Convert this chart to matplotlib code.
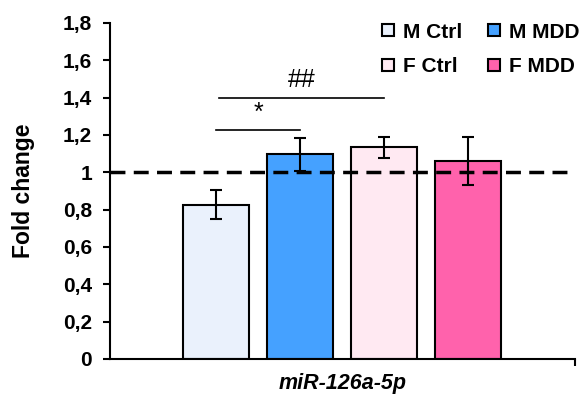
import matplotlib.pyplot as plt
from matplotlib.lines import Line2D

plt.rcParams['font.family'] = ['Liberation Sans', 'DejaVu Sans']

groups = ['M Ctrl', 'M MDD', 'F Ctrl', 'F MDD']
values = [0.825, 1.095, 1.133, 1.06]
errors = [0.078, 0.09, 0.058, 0.13]
colors = ['#EAF1FC', '#45A1FF', '#FFE9F2', '#FF62AC']
yticks = [0, 0.2, 0.4, 0.6, 0.8, 1, 1.2, 1.4, 1.6, 1.8]
ytick_labels = ['0', '0,2', '0,4', '0,6', '0,8', '1', '1,2', '1,4', '1,6', '1,8']
gene = 'miR-126a-5p'

# significance brackets: (from bar, to bar, height, label)
brackets = [(0, 1, 1.224, '*'), (0.04, 2, 1.40, '##')]

fig = plt.figure(figsize=(5.8, 3.94), dpi=100, facecolor='white')
ax = fig.add_axes([0.19, 0.089, 0.801, 0.853])

x = list(range(len(groups)))
ax.bar(x, values, width=0.79, color=colors, edgecolor='black', linewidth=1.5,
       zorder=2)
ax.errorbar(x, values, yerr=errors, fmt='none', ecolor='black',
            elinewidth=1.5, capsize=4, capthick=1.5, zorder=4)

ax.axhline(1, color='black', linestyle=(0, (4.3, 2.4)), linewidth=2.5,
           zorder=3)

for a, b, h, lab in brackets:
    ax.plot([a, b], [h, h], color='black', linewidth=1.2, clip_on=False)
    ax.text((a + b) / 2, h + 0.03, lab, ha='center', va='bottom',
            fontsize=18)

ax.set_xlim(-1.26, 4.27)
ax.set_ylim(0, 1.8)
ax.set_yticks(yticks)
ax.set_yticklabels(ytick_labels, fontsize=15, fontweight='bold')
ax.set_xticks([4.27])
ax.set_xticklabels([''])
ax.tick_params(axis='y', direction='out', length=5, width=1.5, pad=8)
ax.tick_params(axis='x', direction='out', length=5, width=1.5)
for side in ['top', 'right']:
    ax.spines[side].set_visible(False)
for side in ['left', 'bottom']:
    ax.spines[side].set_linewidth(1.5)

ax.set_ylabel('Fold change', fontsize=16.5, fontweight='bold', va='center')
ax.yaxis.set_label_coords(-0.187, 0.5)
ax.set_xlabel(gene, fontsize=15.5, fontweight='bold', fontstyle='italic',
              va='center')
ax.xaxis.set_label_coords(0.5, -0.073)

handles = [Line2D([], [], marker='s', linestyle='none', markersize=8,
                  markerfacecolor=c, markeredgecolor='black',
                  markeredgewidth=1.5) for c in colors]
order = [0, 2, 1, 3]
fig.legend([handles[i] for i in order], [groups[i] for i in order],
           ncol=2, loc='upper left', bbox_to_anchor=(0.618, 0.99),
           frameon=False, handletextpad=0.22, columnspacing=1.05,
           labelspacing=0.75, handlelength=1.0, borderpad=0.4,
           prop={'size': 15, 'weight': 'bold'})

fig.savefig('out.png', dpi=100, facecolor='white')
